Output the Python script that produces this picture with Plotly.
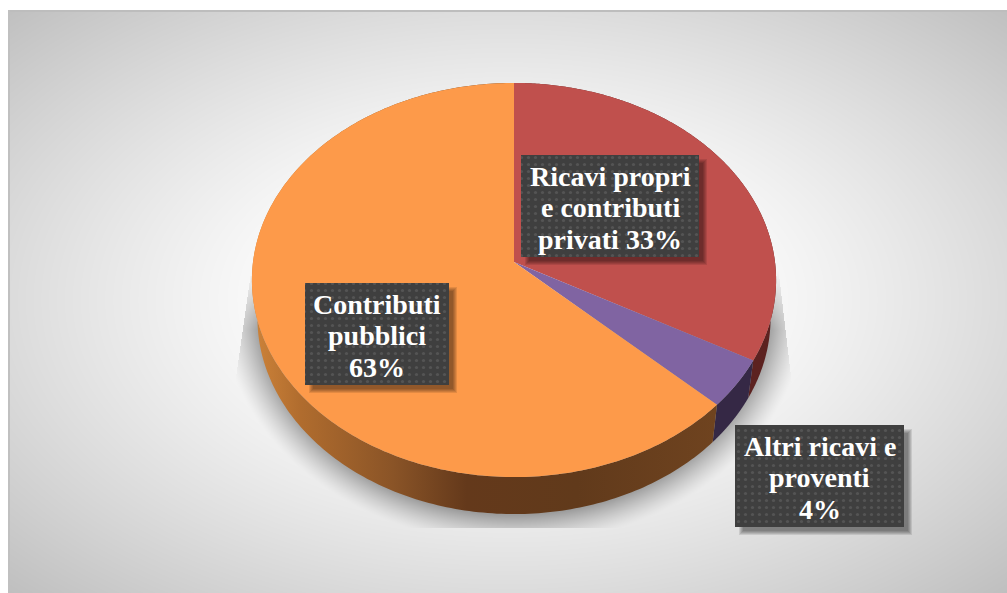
import numpy as np
import plotly.graph_objects as go

# Revenue mix, share of the total in percent, clockwise from twelve o'clock
label_lines = [
    ["Ricavi propri", "e contributi", "privati"],
    ["Altri ricavi e", "proventi"],
    ["Contributi", "pubblici"],
]
shares = [33, 4, 63]
top_colors = ["#c0504d", "#8064a2", "#fd9a4a"]
wall_colors = ["#5c2220", "#352845", None]
# Multi-line layout of each label: whether the percentage shares the last line
pct_inline = [True, False, False]
label_boxes = [(521, 155, 699, 257), (735, 425, 904, 527), (305, 283, 449, 385)]

W, H = 1007, 593
CX = 514.0
K = 0.0914  # foreshortening of the disc's far edge


def disc(theta, y0, a, b):
    """Project angles (clockwise from the far point) onto a tilted disc, in pixels."""
    w = 1 + K * np.cos(theta)
    return CX + a * np.sin(theta) / w, y0 - b * np.cos(theta) / w


TOP = dict(y0=262.0, a=261.0, b=195.4)
BOTTOM = dict(y0=300.0, a=255.5, b=194.5)

# Backdrop: radial grey fade, frame lines and the soft cast shadow
xx, yy = np.meshgrid(np.arange(W) + 0.5, np.arange(H) + 0.5)
r = np.hypot((xx - 508) / 500, (yy - 300) / 295) / np.sqrt(2)
grey = 255 - 64 * np.clip((r - 0.25) / 0.75, 0, 1) ** 1.2

ell = np.hypot((xx - CX) / 258.0, (yy - 304) / 211.0)
dist = (ell - 1) * 230
shadow = np.clip(1 - dist / 32, 0, 1) ** 1.3 * 0.34
shadow *= np.clip((yy - 270) / 60, 0, 1)
shadow[yy > 528] = 0
left_cut = 250 - (yy - 280) * 15 / 105
right_cut = 782 + (yy - 300) * 10 / 85
shadow[xx < left_cut] = 0
shadow[xx > right_cut] = 0
grey = grey * (1 - shadow)

grey[:, :8] = 255
grey[:10, :] = 255
grey[10:12, 8:] = 189
grey[10:, 8:10] = 192

fig = go.Figure()
fig.add_trace(go.Heatmap(
    x=np.arange(W) + 0.5, y=np.arange(H) + 0.5, z=grey.astype(np.uint8),
    zmin=0, zmax=255, zsmooth="fast", showscale=False, hoverinfo="skip",
    colorscale=[[0, "#000000"], [1, "#ffffff"]],
))

# Slice boundaries in radians
edges = np.radians(np.cumsum([0] + shares) / sum(shares) * 360)

# Side walls first, so the top face covers their hidden part
orange_wall = [
    [0.00, "#cc8239"], [0.10, "#b06c2e"], [0.30, "#8a5427"],
    [0.46, "#64391b"], [0.70, "#613a1b"], [1.00, "#6f431f"],
]
for i, colour in enumerate(wall_colors):
    t = np.linspace(edges[i], edges[i + 1], 240)
    x1, y1 = disc(t, **TOP)
    x2, y2 = disc(t[::-1], **BOTTOM)
    style = dict(fillcolor=colour) if colour else dict(
        fillgradient=dict(type="horizontal", colorscale=orange_wall, start=255, stop=715))
    fig.add_trace(go.Scatter(
        x=np.r_[x1, x2], y=np.r_[y1, y2], mode="none", fill="toself",
        hoverinfo="skip", showlegend=False, **style))

# Top face of each slice
for i, colour in enumerate(top_colors):
    t = np.linspace(edges[i], edges[i + 1], 240)
    x1, y1 = disc(t, **TOP)
    fig.add_trace(go.Scatter(
        x=np.r_[CX, x1, CX], y=np.r_[TOP["y0"], y1, TOP["y0"]],
        mode="none", fill="toself", fillcolor=colour,
        hoverinfo="skip", showlegend=False))


def rect(x0, y0, x1, y1):
    return [x0, x1, x1, x0, x0], [y0, y0, y1, y1, y0]


# Label plates: stacked translucent rectangles for the drop shadow, then the dotted plate
for (x0, y0, x1, y1) in label_boxes:
    for grow in range(5, 0, -1):
        sx, sy = rect(x0 + 9 - grow, y0 + 9 - grow, x1 + 3 + grow, y1 + 3 + grow)
        fig.add_trace(go.Scatter(
            x=sx, y=sy, mode="none", fill="toself", fillcolor="rgba(0,0,0,0.10)",
            hoverinfo="skip", showlegend=False))
    bx, by = rect(x0, y0, x1, y1)
    fig.add_trace(go.Scatter(
        x=bx, y=by, mode="none", fill="toself",
        fillpattern=dict(shape=".", size=7, solidity=0.16,
                         bgcolor="#3f3f3f", fgcolor="#545454", fillmode="replace"),
        hoverinfo="skip", showlegend=False))

# One text entry per line, so the line spacing stays under control
for lines, share, inline, (x0, y0, x1, y1) in zip(label_lines, shares, pct_inline, label_boxes):
    rows = list(lines)
    if inline:
        rows[-1] = f"{rows[-1]} {share}%"
    else:
        rows.append(f"{share}%")
    mid = (y0 + y1) / 2 + 1.5
    for n, row in enumerate(rows):
        fig.add_annotation(
            x=(x0 + x1) / 2, y=mid + (n - (len(rows) - 1) / 2) * 31.5,
            text=f"<b>{row}</b>", showarrow=False, xanchor="center", yanchor="middle",
            font=dict(family="Liberation Serif", size=28, color="#ffffff"))

fig.update_layout(
    width=W, height=H, margin=dict(l=0, r=0, t=0, b=0),
    paper_bgcolor="#ffffff", plot_bgcolor="#ffffff", showlegend=False,
    xaxis=dict(range=[0, W], visible=False, fixedrange=True),
    yaxis=dict(range=[H, 0], visible=False, fixedrange=True),
)
fig.write_html("out.html", config=dict(displayModeBar=False))
